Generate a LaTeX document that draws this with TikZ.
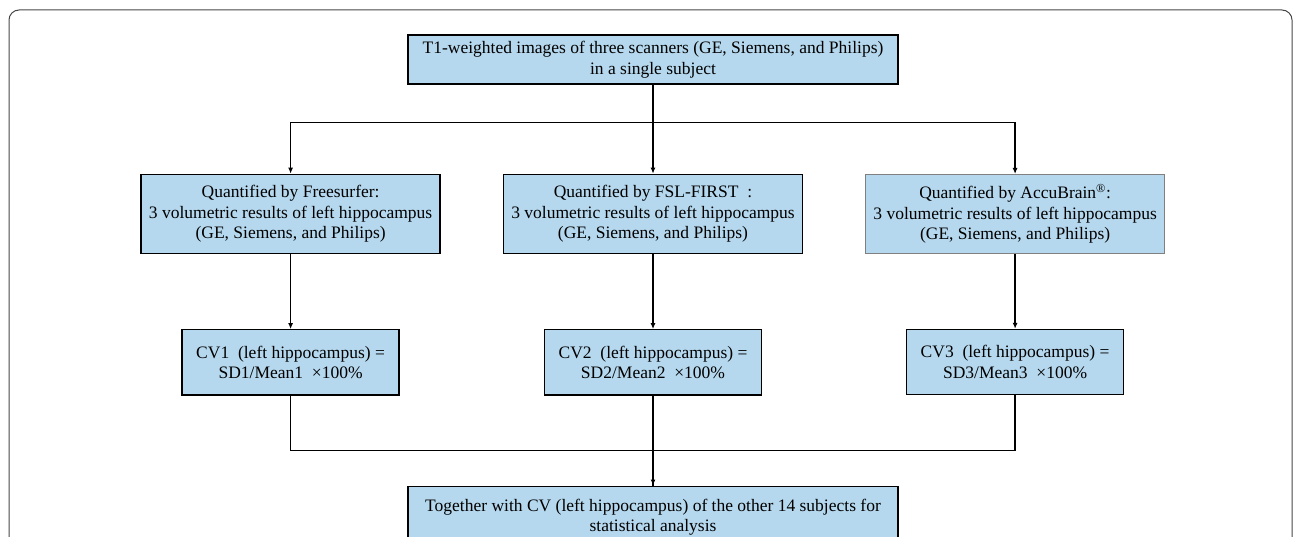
\documentclass[tikz,border=0pt]{standalone}
\usepackage{fontspec}
\setmainfont{Liberation Serif}
\usepackage{tikz}
\usetikzlibrary{positioning,arrows.meta}
\definecolor{boxblue}{RGB}{181,216,238}
\definecolor{framegray}{RGB}{70,70,70}

\begin{document}
\begin{tikzpicture}[x = 1pt, y = 1pt, >={Latex[length=6pt,width=5pt]},
  box/.style = {draw, line width = 1.4pt, fill = boxblue, align = center, inner sep = 2pt,
                font = \fontsize{17.5}{20.5}\selectfont},
  wide/.style = {box, minimum width = 490pt, minimum height = 49pt},
  tool/.style = {box, minimum width = 299pt, minimum height = 79pt},
  cv/.style = {box, minimum width = 217pt, minimum height = 65pt},
  link/.style = {line width = 1.3pt}]
\useasboundingbox (0,0) rectangle (1296,-537);
\draw [framegray, line width = 1pt, rounded corners = 10pt] (9,-600) -- (9,-10) -- (1292,-10) -- (1292,-600);
\node [wide] (scan) at (653,-59.5) {T1-weighted images of three scanners (GE, Siemens, and Philips)\\in a single subject};
\node [tool] (fsl) [below = 89pt of scan] {Quantified by FSL-FIRST\ \ :\\3 volumetric results of left hippocampus\\(GE, Siemens, and Philips)};
\node [tool] (free) [left = 62pt of fsl] {Quantified by Freesurfer:\\3 volumetric results of left hippocampus\\(GE, Siemens, and Philips)};
\node [tool, draw = gray, line width = 0.8pt] (accu) [right = 62pt of fsl] {Quantified by AccuBrain\textsuperscript{\textregistered}:\\3 volumetric results of left hippocampus\\(GE, Siemens, and Philips)};
\node [cv] (cv_1) [below = 75pt of free] {CV1\ \ (left hippocampus) =\\SD1/Mean1\ \ \texttimes100\%};
\node [cv] (cv_2) [below = 75pt of fsl] {CV2\ \ (left hippocampus) =\\SD2/Mean2\ \ \texttimes100\%};
\node [cv] (cv_3) [below = 75pt of accu] {CV3\ \ (left hippocampus) =\\SD3/Mean3\ \ \texttimes100\%};
\node [wide, minimum height = 62pt] (stat) [below = 90pt of cv_2] {Together with CV (left hippocampus) of the other 14 subjects for\\statistical analysis};
\draw [link, ->] (scan) -- (fsl);
\draw [link, ->] (scan.south) -- ++(0,-38) -| (free.north);
\draw [link, ->] (scan.south) -- ++(0,-38) -| (accu.north);
\draw [link, ->] (free) -- (cv_1);
\draw [link, ->] (fsl) -- (cv_2);
\draw [link, ->] (accu) -- (cv_3);
\draw [link, ->] (cv_2) -- (stat);
\draw [link] (cv_1.south) -- ++(0,-55) -| (stat.north);
\draw [link] (cv_3.south) -- ++(0,-55) -| (stat.north);
\end{tikzpicture}
\end{document}
